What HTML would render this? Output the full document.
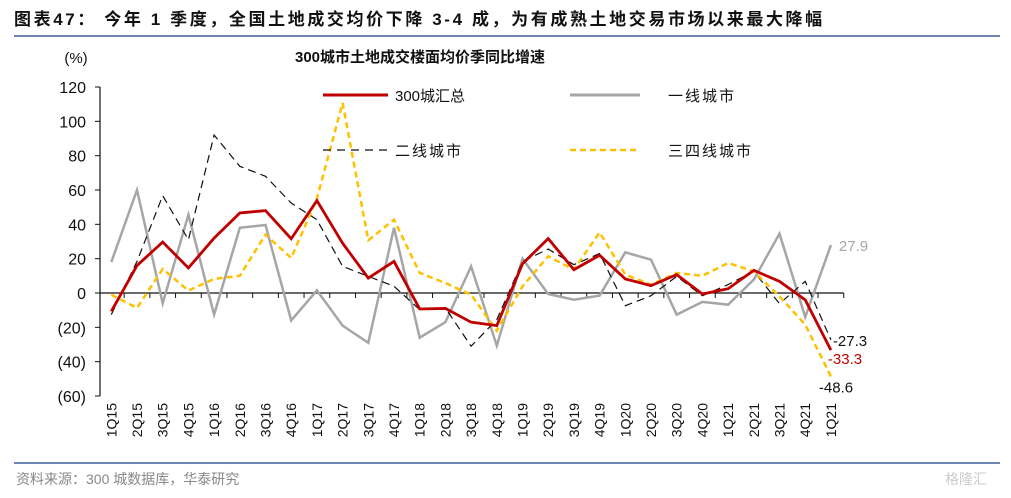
<!DOCTYPE html>
<html><head><meta charset="utf-8"><style>
html,body{margin:0;padding:0;background:#fff;}
body{width:1011px;height:493px;overflow:hidden;font-family:"Liberation Sans","Noto Sans CJK SC",sans-serif;}
</style></head><body>
<svg id="chart" width="1011" height="493" xmlns="http://www.w3.org/2000/svg" font-family="Liberation Sans, Noto Sans CJK SC, sans-serif">
<text x="14" y="25" font-size="17" font-weight="bold" fill="#111" letter-spacing="2.6">图表47：  今年 1 季度，全国土地成交均价下降 3-4 成，为有成熟土地交易市场以来最大降幅</text>
<line x1="14" y1="36" x2="1000" y2="36" stroke="#6b86b0" stroke-width="2"/>
<text x="420" y="62" font-size="15" font-weight="bold" text-anchor="middle" fill="#111">300城市土地成交楼面均价季同比增速</text>
<text x="76" y="63" font-size="15" text-anchor="middle" fill="#111">(%)</text>
<g id="axes"></g>
<g id="series"></g>
<g id="legend">
<line x1="323" y1="95" x2="388" y2="95" stroke="#c00000" stroke-width="3"/>
<text x="395" y="101" font-size="15" fill="#111">300城汇总</text>
<line x1="570" y1="95" x2="640" y2="95" stroke="#a6a6a6" stroke-width="3"/>
<text x="668" y="101" font-size="15" fill="#111" letter-spacing="2">一线城市</text>
<line x1="323" y1="150" x2="388" y2="150" stroke="#111" stroke-width="1.3" stroke-dasharray="8,6"/>
<text x="395" y="156" font-size="15" fill="#111" letter-spacing="2">二线城市</text>
<line x1="570" y1="150" x2="640" y2="150" stroke="#ffc000" stroke-width="2.5" stroke-dasharray="6,4"/>
<text x="668" y="156" font-size="15" fill="#111" letter-spacing="2">三四线城市</text>
</g>
<line x1="14" y1="463" x2="1000" y2="463" stroke="#6b86b0" stroke-width="2"/>
<text x="16" y="484" font-size="14" fill="#888">资料来源：300 城数据库，华泰研究</text>
<text x="945" y="484" font-size="14" fill="#ccc">格隆汇</text>
</svg>
<script>
const categories=["1Q15","2Q15","3Q15","4Q15","1Q16","2Q16","3Q16","4Q16","1Q17","2Q17","3Q17","4Q17","1Q18","2Q18","3Q18","4Q18","1Q19","2Q19","3Q19","4Q19","1Q20","2Q20","3Q20","4Q20","1Q21","2Q21","3Q21","4Q21","1Q21"];
const total=[-10.7,16,29.7,14.6,32,46.6,48,31.6,53.8,29,8.7,18.4,-9.3,-9,-17,-19,17,31.7,13.6,22,8.2,4.3,10.7,-0.6,2.5,13.2,6.8,-4,-33.3];
const tier1=[18,60,-6,45.6,-12.6,38,39.6,-16,1.5,-19,-29,38,-26,-17,15.5,-30.7,20,-0.6,-3.9,-1.5,23.7,19.4,-12.6,-5.2,-6.8,7.8,34.6,-14,27.9];
const tier2=[-12.6,18.4,56.7,31,92,73.8,68,52.4,42.7,15.5,9.7,3.9,-9.7,-8.7,-31,-15.5,18.4,25.6,16.5,23,-7.4,-1.6,9.7,-1.6,4.9,12.6,-6.2,6.8,-27.3];
const tier34=[-1,-8.7,14,1.4,8.2,10,34,20.4,55,110.7,30.7,42.7,11.7,5.8,-1,-22,3.9,21.4,13.6,35.3,10.7,4.9,11.7,10,17.5,12.6,-2,-18.4,-48.6];
const yTicks=[120,100,80,60,40,20,0,-20,-40,-60];
const yTickLabels=["120","100","80","60","40","20","0","(20)","(40)","(60)"];
const NS="http://www.w3.org/2000/svg";
const x0=111.3,dx=25.7;
function xs(i){return x0+i*dx;}
function ys(v){return 293+( -v)*(309/180);}
function mk(tag,attrs,parent){const e=document.createElementNS(NS,tag);for(const k in attrs)e.setAttribute(k,attrs[k]);parent.appendChild(e);return e;}
const axes=document.getElementById('axes');
const ya=mk('line',{x1:100,y1:ys(120),x2:100,y2:ys(-60),stroke:'#111','stroke-width':1.2},axes);


yTicks.forEach((t,i)=>{
  const tk=mk('line',{x1:95,x2:100,y1:ys(t),y2:ys(t),stroke:'#111'},axes);
  
  
  const tx=mk('text',{x:86,y:ys(t)+6,'font-size':16,'text-anchor':'end',fill:'#111'},axes);
  tx.textContent=yTickLabels[i];
  
  
});
const xa=mk('line',{x1:100,y1:ys(0),x2:xs(categories.length-1)+dx/2,y2:ys(0),stroke:'#111','stroke-width':1.2},axes);


categories.forEach((c,i)=>{
  const tk=mk('line',{x1:xs(i)+dx/2,x2:xs(i)+dx/2,y1:ys(0),y2:ys(0)+5,stroke:'#111'},axes);
  
  
  const tx=mk('text',{x:0,y:0,'font-size':14,'text-anchor':'end',fill:'#111',transform:`translate(${xs(i)+5},403) rotate(-90)`},axes);
  tx.textContent=c;
  
  
});
const ser=document.getElementById('series');
function line(data,name,style){
  const p=mk('polyline',Object.assign({points:data.map((v,i)=>xs(i)+','+ys(v)).join(' '),fill:'none','stroke-linejoin':'miter'},style),ser);
  
  
}
line(tier1,'line-tier1',{stroke:'#a6a6a6','stroke-width':2.5});
line(tier2,'line-tier2',{stroke:'#111','stroke-width':1.2,'stroke-dasharray':'8,5'});
line(tier34,'line-tier34',{stroke:'#ffc000','stroke-width':2.5,'stroke-dasharray':'6,4'});
line(total,'line-300-total',{stroke:'#c00000','stroke-width':2.8});
const n=categories.length-1;
function endLabel(v,txt,color,dxo,dyo,name){
  const t=mk('text',{x:xs(n)+dxo,y:ys(v)+dyo,'font-size':15,fill:color},ser);
  t.textContent=txt;
  
  
}
endLabel(tier1[n],tier1[n].toFixed(1),'#a6a6a6',8,6,'label-tier1-end');
endLabel(tier2[n],tier2[n].toFixed(1),'#111',2,6,'label-tier2-end');
endLabel(total[n],total[n].toFixed(1),'#c00000',-3,14,'label-total-end');
endLabel(tier34[n],tier34[n].toFixed(1),'#111',-12,16,'label-tier34-end');
</script>
</body></html>
